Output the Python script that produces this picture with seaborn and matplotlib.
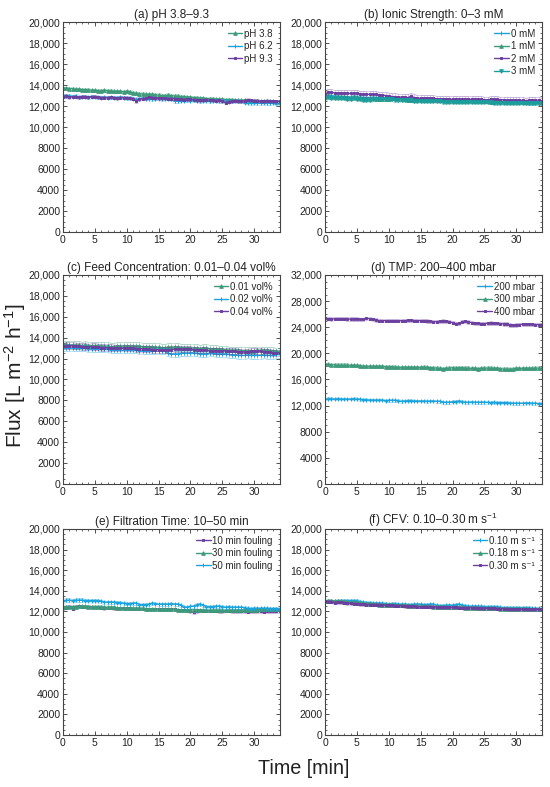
import numpy as np
import pandas as pd
import matplotlib
matplotlib.use("Agg")
import matplotlib.pyplot as plt
import seaborn as sns
from matplotlib.ticker import FuncFormatter, MultipleLocator

# flux values in units of 100 L m-2 h-1, sampled every 0.5 min from 0 to 34 min
# (a) pH
ph38 = [137,137,136.5,136.5,136,136,135.5,135.5,135.5,135,
        135,134.5,134.5,135,134.5,134.5,134,134,134,133.5,
        134,133.5,132.5,132,131.5,131.5,131,131,131,130.5,
        130.5,130,130,130.5,130,129.5,129.5,129,129,128.5,
        128.5,128,128,127.5,127.5,127,127,127,126.5,126.5,
        126.5,126,126,126,125.5,125.5,125.5,125.5,125,125,
        125,125,124.5,124.5,124.5,124.5,124.5,124,124]
ph62 = [130,129.5,130,129,129.5,128.5,129,129,128.5,129,
        129,128.5,128,128.5,128,128.5,128,128,128.5,128,
        127.5,128,127,126.5,127,127.5,127,127,126.5,127,
        127,126.5,127,127,126.5,124.5,124.5,125,125,125.5,
        125,125.5,125,124.5,125,125,124.5,125,125,124.5,
        125,124.5,124,124.5,125,124.5,124.5,123,123,122.5,
        123,122.5,122.5,123,122.5,122.5,123,122.5,122.5]
ph93 = [129,129.5,128.5,129,129,128.5,129,129,128.5,129,
        129,128.5,128,128,128,128.5,128,127.5,128,128,
        128,127.5,127,124.5,126.5,127,127.5,128.5,128,127.5,
        127.5,127.5,127.5,127,127,127,126.5,126.5,126,126.5,
        126.5,126,125.5,125.5,125.5,126,125.5,125.5,125,125.5,
        124.5,123,124,124.5,125,124.5,124.5,125,126,125.5,
        125,125,124.5,124.5,125,124.5,124.5,124.5,124.5]

# (b) ionic strength
is0 = [130,130.5,130,129.5,129.5,129,129,129,128.5,128.5,
       128.5,128.5,128,128,128,128,127.5,127.5,127.5,127.5,
       127.5,127.5,127,127,127,126.5,126.5,126.5,126,126,
       126,126,126,125.5,125.5,125.5,125.5,125,125,125,
       125,125,125,125,124.5,124.5,124.5,124.5,124.5,124.5,
       124.5,124.5,124.5,124,124,124,124,124,123.5,123.5,
       123.5,123.5,123.5,123.5,123,123,123,123,123]
is1 = [129,129.5,129,128.5,128.5,128.5,128.5,128,128,128.5,
       128,127.5,127,126.5,127,127.5,127,126.5,126.5,127,
       127,127.5,127.5,127,127,127,126,125.5,126,126,
       126,125.5,125.5,126,125.5,125.5,125.5,125.5,125,125,
       125,125,125,125,124.5,125,124.5,124.5,124.5,124.5,
       124.5,124.5,124,124,124.5,124,124,124,124,124,
       123.5,123.5,124,123.5,123.5,123.5,123.5,123.5,123.5]
is2 = [131,133.5,133,132.5,132.5,132.5,132.5,132,132,132,
       132,131.5,131.5,131.5,131,131,131,130.5,130.5,130,
       129.5,129,129,128.5,128.5,128.5,128,129.5,128,127.5,
       127.5,127.5,127.5,127.5,127.5,127,127,127,127,126.5,
       126.5,126.5,126.5,126.5,126.5,126.5,126.5,126.5,126.5,126.5,
       126,126,126.5,126.5,126.5,126,126,125.5,125.5,125.5,
       125.5,125.5,125.5,125,125.5,126,125.5,125.5,125]
is3 = [128,128.5,128,127.5,127.5,127.5,127.5,127,127,127.5,
       127,126.5,126,125.5,126,126.5,126.5,126.5,126.5,126.5,
       126.5,126.5,126,126,126,125.5,125.5,125.5,125,125,
       125,125,125,124.5,124.5,124.5,124.5,124,124,124,
       124,124,124,124,124,124,123.5,123.5,123.5,123.5,
       123.5,123.5,123.5,123,123,123,123,123,123,123,
       122.5,122.5,122.5,122.5,122.5,122.5,122.5,122.5,122.5]

# (c) feed concentration
fc01 = [133,133.5,133,133,133,133,132.5,133,132.5,132.5,
        132.5,132.5,132,132,132,131.5,131.5,132,132,132,
        132,132,132,132,132,131.5,131.5,131.5,131.5,131,
        131,130.5,130.5,131,131,131,131,130.5,130.5,130.5,
        130.5,130,130,129.5,130,130,129.5,129.5,129.5,129,
        129,128.5,128,128,128,128,127.5,127.5,127.5,127.5,
        127.5,128,128,128,128,127.5,127.5,127,127]
fc02 = [130,130.5,130.5,130,130,130,130,130,129.5,129.5,
        129.5,129.5,129,129,129,128.5,128.5,128,128,128,
        128,128.5,128.5,128,127.5,127.5,127.5,127.5,127,127,
        127,127,127,125,124.5,124.5,124.5,125,125.5,125,
        125.5,125.5,125,124.5,124.5,124.5,125,125,124.5,124.5,
        124.5,124.5,124,123.5,123.5,123,123,123,123.5,123,
        123,123,123,123.5,123,123,123,124,124]
fc04 = [132,132.5,132.5,132.5,132,132,131.5,131.5,131,131.5,
        131.5,131,130.5,130.5,130.5,130.5,130,130,130,130,
        130,130,130,129.5,129.5,129.5,129,129,128.5,128.5,
        128.5,128.5,128.5,128.5,128.5,129,129,129,129,129,
        129,128.5,128.5,128,128,128,127.5,127.5,127.5,127.5,
        127.5,127.5,127,127,127,126.5,126.5,126.5,126.5,127,
        127,127,127,126.5,126.5,126,125.5,125.5,125.5]

# (d) TMP
tmp200 = [130,130.5,130.5,130,130.5,130,130,130,130,130.5,
          130,129.5,129,129,128.5,128.5,128.5,128.5,128.5,127.5,
          128,128,128,127.5,126.5,127,127.5,127.5,127,127,
          127,127,126.5,127,127,126.5,126.5,125,125,125,
          126,126,127,126,125,125,125.5,125,125,125,
          125,125,124.5,125,124.5,124.5,124.5,124.5,124,123.5,
          123.5,123.5,123.5,124,124,123.5,123.5,123,123]
tmp300 = [183,183,182.5,182.5,182,182,182,182,181.5,181.5,
          181.5,181,180,180,180,180,180,180,180,179.5,
          179.5,179.5,179,178.5,178.5,178.5,178.5,178.5,178.5,178.5,
          178.5,179,178.5,178,178,177.5,177,176.5,177,177.5,
          178,177.5,178,178,177.5,177.5,177,177,176.5,177,
          177.5,177.5,177.5,177,177,176.5,176,176,175.5,176,
          177,177,177,177,177,177,177.5,177.5,177.5]
tmp400 = [253.5,253,252.5,253,253,253,253,252.5,252.5,252.5,
          252.5,252,252,253.5,253,252,251,250,250,250,
          250,250,250,250,250,250,250.5,250.5,250,250,
          250,250,249.5,249,248.5,248.5,249,249.5,249,248.5,
          247,245.5,246,248.5,249,248,247,246,246,245.5,
          245.5,246,246.5,246,246,245.5,245,245,243.5,243,
          243.5,244,244.5,244.5,244.5,244.5,244,244,244]

# (e) filtration time
ft10 = [123,123.5,124.5,122.5,124.5,125,124.5,124.5,124.5,124,
        124,124,123.5,123,123.5,123.5,123,123,123,123,
        123,123,122.5,122.5,122.5,122.5,122.5,122.5,122.5,122.5,
        122,122,122,122,122,122,121.5,121.5,121.5,121,
        120,119,120,121,120.5,120.5,120.5,120.5,120.5,120,
        120,120.5,120.5,120,120,120,120,120,119.5,120,
        120,120,120,119.5,120,120,120,120,120]
ft30 = [124,124.5,124.5,124.5,124.5,125,125,125,124.5,124.5,
        124.5,124.5,124.5,124,124,124,124,123.5,123.5,123.5,
        123.5,123,123,123,123,123,122.5,122.5,122.5,122.5,
        122,122,122,122,122,122,121.5,121.5,121.5,121.5,
        121.5,121.5,121.5,121.5,121.5,121,121,121,121,121,
        121,121,121,121,121,121,121,121.5,121.5,121.5,
        121.5,121.5,122,122,122,122,122,122,122]
ft50 = [130,131,131,130.5,131,131,131,130.5,130.5,130.5,
        130.5,130.5,130,129,129,129,129,128.5,128.5,128,
        127.5,127.5,128,128,126.5,126.5,126.5,127,128,127.5,
        127,127,127,127,127.5,127,127,126,124,124,
        125,125,126.5,127,126,124.5,124.5,124.5,125,125,
        124.5,124,124.5,124,124,124,124,123.5,123,122.5,
        123,123,123,123,123,122.5,122.5,122.5,122.5]

# (f) CFV
cfv10 = [130,130,130,130,130,130.5,130.5,130.5,130.5,130.5,
         130.5,129.5,129,128.5,128.5,128,128,128,128,127.5,
         127,127.5,127.5,127,127,127,126.5,126.5,127,127,
         127,126.5,126.5,127,127,126,125.5,125.5,126,126,
         126,126.5,127,126,125.5,125,125,125,125,125,
         124.5,124.5,124.5,124.5,124.5,124,123.5,123.5,123.5,123.5,
         123.5,123.5,123.5,123.5,123.5,123,123,123,122.5]
cfv18 = [130,130.5,130.5,130,130.5,130,129.5,129,129,129,
         128.5,128,128,127.5,127.5,127,127,126.5,126.5,126.5,
         126.5,126,126,126,126,126,125.5,125.5,125.5,125.5,
         125,125,125,125,124.5,124.5,124.5,124.5,124,124,
         124,124,124,124,123.5,123.5,123.5,123.5,123.5,123,
         123,123,123,123,123,122.5,122.5,122.5,122.5,122.5,
         122.5,122.5,122.5,122.5,122,122,122,122,122]
cfv30 = [130,129.5,129.5,128.5,129,129,128.5,128,128,127.5,
         127.5,127,127,126.5,126.5,126.5,126.5,126.5,126,126,
         126,126,125.5,125.5,125.5,125,125,125,125,124.5,
         124.5,124.5,124.5,124.5,124.5,124,124,124,124,124,
         124,124,123.5,123.5,123.5,123.5,123.5,123.5,123,123,
         123,123,123,123,122.5,122.5,122.5,122.5,122,122,
         122,122,122,122,122,122,122,122,122]

BLUE = "#1ba3dc"
GREEN = "#3f9a7c"
PURPLE = "#6b3f9e"
TEAL = "#1a9e9e"

sup = "m s\u207b\u00b9"
panels = [
    ("(a) pH 3.8–9.3", 20000, 2000,
     [("pH 3.8", ph38, GREEN, "^", 150), ("pH 6.2", ph62, BLUE, "+", 150),
      ("pH 9.3", ph93, PURPLE, "s", 150)]),
    ("(b) Ionic Strength: 0–3 mM", 20000, 2000,
     [("0 mM", is0, BLUE, "+", 200), ("1 mM", is1, GREEN, "^", 200),
      ("2 mM", is2, PURPLE, "s", 300), ("3 mM", is3, TEAL, "v", 200)]),
    ("(c) Feed Concentration: 0.01–0.04 vol%", 20000, 2000,
     [("0.01 vol%", fc01, GREEN, "^", 350), ("0.02 vol%", fc02, BLUE, "+", 300),
      ("0.04 vol%", fc04, PURPLE, "s", 300)]),
    ("(d) TMP: 200–400 mbar", 32000, 4000,
     [("200 mbar", tmp200, BLUE, "+", 200), ("300 mbar", tmp300, GREEN, "^", 250),
      ("400 mbar", tmp400, PURPLE, "s", 250)]),
    ("(e) Filtration Time: 10–50 min", 20000, 2000,
     [("10 min fouling", ft10, PURPLE, "s", 120), ("30 min fouling", ft30, GREEN, "^", 120),
      ("50 min fouling", ft50, BLUE, "+", 150)]),
    (r"(f) CFV: 0.10–0.30 m s$^{-1}$", 20000, 2000,
     [("0.10 " + sup, cfv10, BLUE, "+", 150), ("0.18 " + sup, cfv18, GREEN, "^", 150),
      ("0.30 " + sup, cfv30, PURPLE, "s", 150)]),
]
msize = {"^": 2.6, "v": 2.6, "s": 1.9, "+": 3.2}

sns.set_style("ticks")
plt.rcParams['font.family'] = ['Liberation Sans', 'DejaVu Sans']
plt.rcParams['mathtext.fontset'] = 'custom'
plt.rcParams['mathtext.rm'] = 'Liberation Sans'
plt.rcParams['mathtext.it'] = 'Liberation Sans'

fig = plt.figure(figsize=(5.5, 7.87), dpi=100)
lefts = [0.1145, 0.591]
bottoms = [0.7052, 0.385, 0.0661]
heights = [0.2668, 0.2656, 0.2618]


def fmt(v, pos):
    if v >= 10000:
        return f"{v:,.0f}"
    return f"{v:.0f}"


for i, (title, ymax, ystep, series) in enumerate(panels):
    r, c = divmod(i, 2)
    ax = fig.add_axes([lefts[c], bottoms[r], 0.394, heights[r]])
    for label, vals, color, marker, err in series:
        y = np.array(vals) * 100
        t = np.arange(len(y)) * 0.5
        df = pd.DataFrame({"t": t, "flux": y})
        ax.errorbar(t, y, yerr=err, fmt="none", ecolor=color, alpha=0.4,
                    elinewidth=0.5, capsize=1.2, capthick=0.5)
        sns.lineplot(data=df, x="t", y="flux", ax=ax, color=color, marker=marker,
                     markersize=msize[marker], markeredgewidth=0.7,
                     markeredgecolor=color, linewidth=1.0, label=label)
    ax.set_xlim(0, 34)
    ax.set_ylim(0, ymax)
    ax.xaxis.set_major_locator(MultipleLocator(5))
    ax.xaxis.set_minor_locator(MultipleLocator(1))
    ax.yaxis.set_major_locator(MultipleLocator(ystep))
    ax.yaxis.set_minor_locator(MultipleLocator(ystep / 4))
    ax.yaxis.set_major_formatter(FuncFormatter(fmt))
    ax.tick_params(which="both", direction="in", top=True, right=True,
                   labelsize=7.5, pad=2, colors="#333333", labelcolor="#222222")
    ax.tick_params(which="major", length=3, width=0.6)
    ax.tick_params(which="minor", length=1.5, width=0.5)
    for s in ax.spines.values():
        s.set_linewidth(0.8)
        s.set_color("#444444")
    ax.set_xlabel("")
    ax.set_ylabel("")
    ax.set_title(title, fontsize=8.5, pad=3, color="#222222")
    ax.legend(loc="upper right", frameon=False, fontsize=7, handlelength=1.5,
              handletextpad=0.2, labelspacing=0.25, borderaxespad=0.3)

fig.text(0.027, 0.522, r"Flux [L m$^{-2}$ h$^{-1}$]", rotation=90, fontsize=15,
         ha="center", va="center", color="#222222")
fig.text(0.553, 0.023, "Time [min]", fontsize=14.2, ha="center", va="center",
         color="#222222")

fig.savefig("out.png", dpi=100)
